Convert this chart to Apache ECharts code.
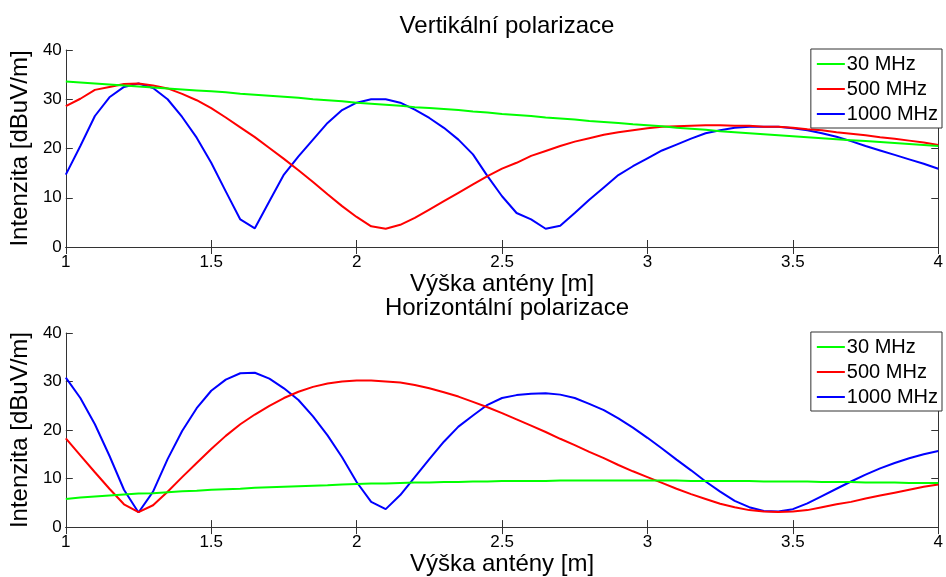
<!DOCTYPE html>
<html>
<head>
<meta charset="utf-8">
<script src="https://cdn.jsdelivr.net/npm/echarts@6/dist/echarts.min.js"></script>
<style>
  html, body { margin: 0; padding: 0; background: #fff; }
  #chart { width: 946px; height: 577px; }
</style>
</head>
<body>
<div id="chart"></div>
<script>
// výška antény [m]
var heights = [1.00, 1.05, 1.10, 1.15, 1.20, 1.25, 1.30, 1.35, 1.40, 1.45,
  1.50, 1.55, 1.60, 1.65, 1.70, 1.75, 1.80, 1.85, 1.90, 1.95,
  2.00, 2.05, 2.10, 2.15, 2.20, 2.25, 2.30, 2.35, 2.40, 2.45,
  2.50, 2.55, 2.60, 2.65, 2.70, 2.75, 2.80, 2.85, 2.90, 2.95,
  3.00, 3.05, 3.10, 3.15, 3.20, 3.25, 3.30, 3.35, 3.40, 3.45,
  3.50, 3.55, 3.60, 3.65, 3.70, 3.75, 3.80, 3.85, 3.90, 3.95, 4.00];

var seriesNames = ['30 MHz', '500 MHz', '1000 MHz'];
var seriesColors = ['#00ff00', '#ff0000', '#0000ff'];
var xTicks = [1, 1.5, 2, 2.5, 3, 3.5, 4];
var yTicks = [0, 10, 20, 30, 40];

// vertikalni polarizace
var vert30 = [33.6, 33.4, 33.2, 33.0, 32.8, 32.6, 32.4, 32.2, 32.0, 31.8,
  31.6, 31.4, 31.1, 30.9, 30.7, 30.5, 30.3, 30.0, 29.8, 29.6,
  29.3, 29.1, 28.9, 28.7, 28.4, 28.2, 28.0, 27.8, 27.5, 27.3,
  27.0, 26.8, 26.6, 26.3, 26.1, 25.9, 25.6, 25.4, 25.2, 24.9,
  24.7, 24.5, 24.2, 24.0, 23.8, 23.5, 23.3, 23.1, 22.9, 22.7,
  22.5, 22.3, 22.1, 21.9, 21.7, 21.5, 21.3, 21.1, 20.9, 20.7, 20.5];
var vert500 = [28.6, 30.1, 31.9, 32.5, 33.1, 33.2, 32.8, 32.2, 31.1, 29.8,
  28.2, 26.3, 24.3, 22.3, 20.1, 17.9, 15.6, 13.2, 10.7, 8.3,
  6.1, 4.2, 3.7, 4.5, 5.9, 7.6, 9.3, 11.0, 12.7, 14.4,
  15.9, 17.1, 18.5, 19.5, 20.5, 21.4, 22.1, 22.8, 23.3, 23.7,
  24.1, 24.4, 24.5, 24.6, 24.7, 24.7, 24.6, 24.6, 24.4, 24.4,
  24.2, 23.9, 23.7, 23.3, 23.0, 22.7, 22.3, 22.0, 21.6, 21.2, 20.7];
var vert1000 = [14.7, 20.5, 26.6, 30.4, 32.5, 33.2, 32.3, 30.0, 26.4, 22.2,
  17.1, 11.3, 5.6, 3.8, 9.3, 14.7, 18.4, 21.8, 25.2, 27.8,
  29.3, 30.0, 30.0, 29.3, 27.9, 26.2, 24.2, 21.8, 18.8, 14.4,
  10.3, 6.9, 5.6, 3.7, 4.3, 6.9, 9.6, 12.1, 14.6, 16.4,
  18.0, 19.6, 20.8, 22.0, 23.1, 23.7, 24.2, 24.4, 24.4, 24.4,
  24.1, 23.7, 23.1, 22.4, 21.5, 20.5, 19.6, 18.7, 17.8, 16.9, 15.9];

// horizontalni polarizace
var hor30 = [5.8, 6.1, 6.3, 6.5, 6.7, 6.9, 7.0, 7.2, 7.4, 7.5,
  7.7, 7.8, 7.9, 8.1, 8.2, 8.3, 8.4, 8.5, 8.6, 8.8,
  8.9, 9.0, 9.0, 9.1, 9.2, 9.2, 9.3, 9.3, 9.4, 9.4,
  9.5, 9.5, 9.5, 9.5, 9.6, 9.6, 9.6, 9.6, 9.6, 9.6,
  9.6, 9.6, 9.6, 9.5, 9.5, 9.5, 9.5, 9.5, 9.4, 9.4,
  9.4, 9.4, 9.3, 9.3, 9.3, 9.2, 9.2, 9.2, 9.1, 9.1, 9.1];
var hor500 = [18.3, 14.8, 11.3, 7.9, 4.7, 3.1, 4.5, 7.3, 10.3, 13.2,
  16.1, 18.8, 21.2, 23.2, 25.0, 26.6, 27.9, 28.9, 29.6, 30.0,
  30.2, 30.2, 30.0, 29.8, 29.3, 28.6, 27.8, 26.9, 25.8, 24.7,
  23.5, 22.2, 20.9, 19.6, 18.2, 16.9, 15.5, 14.2, 12.8, 11.5,
  10.3, 9.1, 7.9, 6.8, 5.8, 4.8, 4.1, 3.5, 3.2, 3.1,
  3.2, 3.5, 4.1, 4.7, 5.2, 5.9, 6.5, 7.1, 7.7, 8.3, 8.8];
var hor1000 = [30.8, 26.6, 21.2, 14.7, 7.7, 3.0, 7.3, 14.0, 19.8, 24.5,
  28.1, 30.4, 31.7, 31.8, 30.6, 28.6, 26.2, 22.8, 18.9, 14.4,
  9.3, 5.2, 3.7, 6.6, 10.3, 14.0, 17.6, 20.7, 23.0, 25.2,
  26.6, 27.2, 27.5, 27.6, 27.3, 26.6, 25.4, 24.1, 22.4, 20.5,
  18.4, 16.2, 13.9, 11.7, 9.4, 7.3, 5.4, 4.1, 3.3, 3.2,
  3.7, 4.9, 6.4, 7.9, 9.4, 10.8, 12.1, 13.2, 14.2, 15.0, 15.7];

var FONT = '"Liberation Sans", Arial, sans-serif';

function pairs(ys) {
  return heights.map(function (x, i) { return [x, ys[i]]; });
}

var grids = [
  { left: 63, top: 50, width: 879, height: 197 },
  { left: 63, top: 333, width: 879, height: 196 }
];

var xAxes = [], yAxes = [];
grids.forEach(function (g, i) {
  // spodni osa s popisky
  xAxes.push({
    type: 'value', gridIndex: i, min: 1, max: 4, interval: 0.5,
    name: 'Výška antény [m]', nameLocation: 'middle', nameGap: 22,
    nameTextStyle: { fontFamily: FONT, fontSize: 24, color: '#000' },
    axisLine: { lineStyle: { color: '#333', width: 1 } },
    axisTick: { inside: true, length: 7, lineStyle: { color: '#333' } },
    axisLabel: { fontFamily: FONT, fontSize: 17, color: '#000', margin: 7,
      formatter: function (v) { return xTicks.indexOf(v) >= 0 ? String(v) : ''; } },
    splitLine: { show: false }
  });
  // horni osa jen pro carky
  xAxes.push({
    type: 'value', gridIndex: i, position: 'top', min: 1, max: 4, interval: 0.5,
    axisLine: { lineStyle: { color: '#333', width: 1 } },
    axisTick: { inside: true, length: 7, lineStyle: { color: '#333' } },
    axisLabel: { show: false }, splitLine: { show: false }
  });
  yAxes.push({
    type: 'value', gridIndex: i, min: 0, max: 40, interval: 10,
    name: 'Intenzita [dBuV/m]', nameLocation: 'middle', nameGap: 27, nameRotate: 90,
    nameTextStyle: { fontFamily: FONT, fontSize: 24, color: '#000' },
    axisLine: { show: true, lineStyle: { color: '#333', width: 1 } },
    axisTick: { inside: true, length: 7, lineStyle: { color: '#333' } },
    axisLabel: { fontFamily: FONT, fontSize: 17, color: '#000', margin: 4,
      formatter: function (v) { return yTicks.indexOf(v) >= 0 ? String(v) : ''; } },
    splitLine: { show: false }
  });
  yAxes.push({
    type: 'value', gridIndex: i, position: 'right', min: 0, max: 40, interval: 10,
    axisLine: { show: true, lineStyle: { color: '#333', width: 1 } },
    axisTick: { inside: true, length: 7, lineStyle: { color: '#333' } },
    axisLabel: { show: false }, splitLine: { show: false }
  });
});

var panels = [[vert30, vert500, vert1000], [hor30, hor500, hor1000]];
var series = [];
panels.forEach(function (p, gi) {
  p.forEach(function (ys, si) {
    series.push({
      name: seriesNames[si], type: 'line',
      xAxisIndex: gi * 2, yAxisIndex: gi * 2,
      data: pairs(ys), showSymbol: false, symbol: 'none',
      lineStyle: { color: seriesColors[si], width: 2 },
      itemStyle: { color: seriesColors[si] },
      animation: false, z: 3 - si
    });
  });
});

function legendAt(top) {
  return {
    orient: 'vertical', right: 4, top: top,
    data: seriesNames, icon: 'rect', itemWidth: 28, itemHeight: 2, itemGap: 5,
    padding: [5, 4, 4, 6],
    backgroundColor: '#fff', borderColor: '#333', borderWidth: 1,
    textStyle: { fontFamily: FONT, fontSize: 20, color: '#000', padding: [0, 0, 0, -3] },
    selectedMode: false
  };
}

var chart = echarts.init(document.getElementById('chart'));
chart.setOption({
  backgroundColor: '#fff',
  animation: false,
  title: [
    { text: 'Vertikální polarizace', left: 502, textAlign: 'center', top: 9,
      textStyle: { fontFamily: FONT, fontSize: 24, fontWeight: 'normal', color: '#000' } },
    { text: 'Horizontální polarizace', left: 502, textAlign: 'center', top: 291,
      textStyle: { fontFamily: FONT, fontSize: 24, fontWeight: 'normal', color: '#000' } }
  ],
  legend: [legendAt(49), legendAt(332)],
  grid: grids,
  xAxis: xAxes,
  yAxis: yAxes,
  series: series
});
</script>
</body>
</html>
